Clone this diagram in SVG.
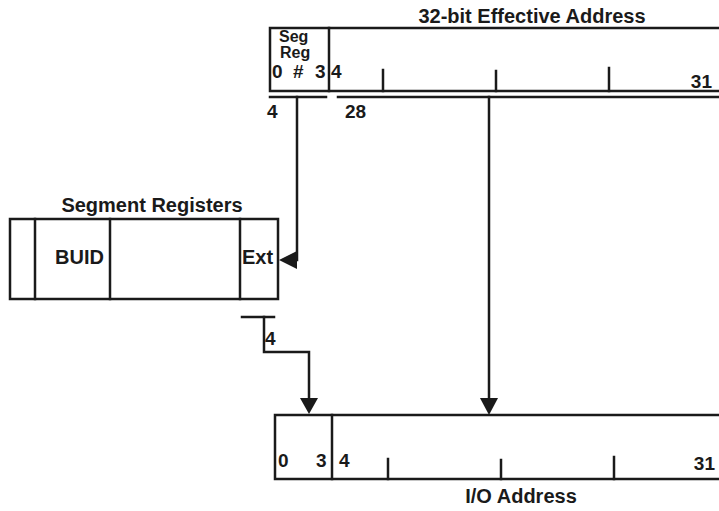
<svg xmlns="http://www.w3.org/2000/svg" width="719" height="511" viewBox="0 0 719 511">
<defs>
<style>
.ln{fill:none;stroke:#1a1a1a;stroke-width:2.5;stroke-linecap:square}
.t{font-family:"Liberation Sans",Arial,sans-serif;font-weight:bold;fill:#1a1a1a}
.title{font-size:20px}
.lbl{font-size:19px}
.sm{font-size:16px}
</style>
</defs>
<rect width="719" height="511" fill="#ffffff"/>

<g id="effective-address">
<text class="t title" x="532" y="23" text-anchor="middle">32-bit Effective Address</text>
<polyline class="ln" points="719,28 270,28 270,91 719,91"/>
<line class="ln" x1="329" y1="28" x2="329" y2="91"/>
<line class="ln" x1="383" y1="70" x2="383" y2="91"/>
<line class="ln" x1="496" y1="71" x2="496" y2="91"/>
<line class="ln" x1="609" y1="68" x2="609" y2="91"/>
<text class="t sm" x="279" y="42">Seg</text>
<text class="t sm" x="280" y="58">Reg</text>
<text class="t lbl" x="272" y="78">0</text>
<text class="t lbl" x="293" y="78">#</text>
<text class="t lbl" x="315" y="78">3</text>
<text class="t lbl" x="331" y="78">4</text>
<text class="t lbl" x="712" y="88" text-anchor="end">31</text>
<line class="ln" x1="270" y1="97" x2="326" y2="97"/>
<line class="ln" x1="338" y1="97" x2="719" y2="97"/>
<text class="t lbl" x="267" y="118">4</text>
<text class="t lbl" x="345" y="118">28</text>
</g>

<g id="segment-registers">
<text class="t title" x="152" y="212" text-anchor="middle">Segment Registers</text>
<rect class="ln" x="10" y="219" width="268" height="80"/>
<line class="ln" x1="35" y1="219" x2="35" y2="299"/>
<line class="ln" x1="110" y1="219" x2="110" y2="299"/>
<line class="ln" x1="240" y1="219" x2="240" y2="299"/>
<text class="t title" x="55" y="264">BUID</text>
<text class="t title" x="242" y="264">Ext</text>
</g>

<g id="io-address">
<polyline class="ln" points="719,415 275,415 275,479 719,479"/>
<line class="ln" x1="332" y1="415" x2="332" y2="479"/>
<line class="ln" x1="388" y1="459" x2="388" y2="479"/>
<line class="ln" x1="501" y1="460" x2="501" y2="479"/>
<line class="ln" x1="614" y1="457" x2="614" y2="479"/>
<text class="t lbl" x="278" y="467">0</text>
<text class="t lbl" x="316" y="467">3</text>
<text class="t lbl" x="339" y="467">4</text>
<text class="t lbl" x="715" y="470" text-anchor="end">31</text>
<text class="t title" x="521" y="503" text-anchor="middle">I/O Address</text>
</g>

<g id="connectors">
<polyline class="ln" points="297,97 297,260 288,260"/>
<path d="M297,251 L279,260 L297,269 Z" fill="#1a1a1a"/>
<line class="ln" x1="489" y1="97" x2="489" y2="400"/>
<path d="M480,398 L489,415 L498,398 Z" fill="#1a1a1a"/>
<line class="ln" x1="242" y1="317" x2="274" y2="317"/>
<polyline class="ln" points="264,317 264,352 309,352 309,400"/>
<path d="M300,398 L309,414 L318,398 Z" fill="#1a1a1a"/>
<text class="t lbl" x="265" y="345">4</text>
</g>
</svg>
